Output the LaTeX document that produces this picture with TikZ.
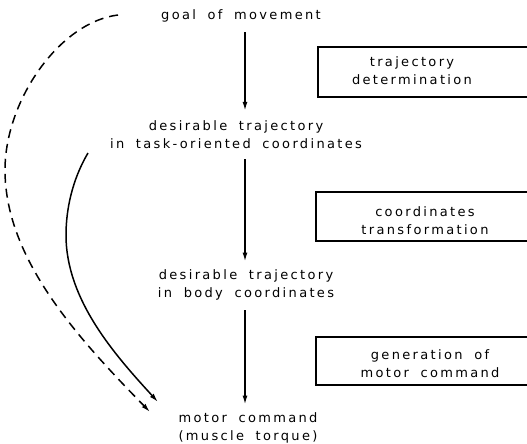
\documentclass[tikz,border=0pt]{standalone}
\usepackage{fontspec}
\setmainfont{DejaVu Sans}[LetterSpace=18,WordSpace=1.8]
\usetikzlibrary{arrows.meta}
\begin{document}
\begin{tikzpicture}[x=1pt,y=-1pt,
  lbl/.style={font=\fontsize{13}{18}\selectfont, align=center, inner sep=4pt},
  stagebox/.style={draw, line width=1.5pt},
  arr/.style={line width=1.5pt, -{Latex[length=9pt,width=5pt]}},
  dsh/.style={line width=1.5pt, dash pattern=on 9pt off 6pt, -{Latex[length=9pt,width=5pt]}}]
\clip (0,0) rectangle (527,444);
\node[lbl] (goal) at (241,16) {goal of movement};
\node[lbl] (traj1) at (236,135) {desirable trajectory\\in task-oriented coordinates};
\node[lbl] (traj2) at (246,285) {desirable trajectory\\in body coordinates};
\node[lbl] (cmd) at (248,428) {motor command\\(muscle torque)};
\draw[stagebox] (540,47) -- (318,47) -- (318,97) -- (540,97);
\draw[stagebox] (540,192) -- (316,192) -- (316,241) -- (540,241);
\draw[stagebox] (540,337) -- (316,337) -- (316,385) -- (540,385);
\node[lbl] (b1) at (412,71) {trajectory\\determination};
\node[lbl] (b2) at (425,221) {coordinates\\transformation};
\node[lbl] (b3) at (430,364) {generation of\\motor command};
\coordinate (ax) at (245,0);
\draw[arr, shorten <=6pt, shorten >=6pt] (goal.south -| ax) -- (traj1.north -| ax);
\draw[arr, shorten <=6pt, shorten >=4pt] (traj1.south -| ax) -- (traj2.north -| ax);
\draw[arr, shorten <=6pt, shorten >=4pt] (traj2.south -| ax) -- (cmd.north -| ax);
\coordinate (dstart) at (118,15);
\coordinate (dend) at (150,412);
\coordinate (sstart) at (88,153);
\coordinate (send) at (158,402);
\draw[dsh] (dstart) .. controls (60,22) and (5,100) .. (5,170) .. controls (5,260) and (80,340) .. (dend);
\draw[arr] (sstart) .. controls (72,180) and (66,210) .. (66,235) .. controls (66,300) and (115,355) .. (send);
\end{tikzpicture}
\end{document}
